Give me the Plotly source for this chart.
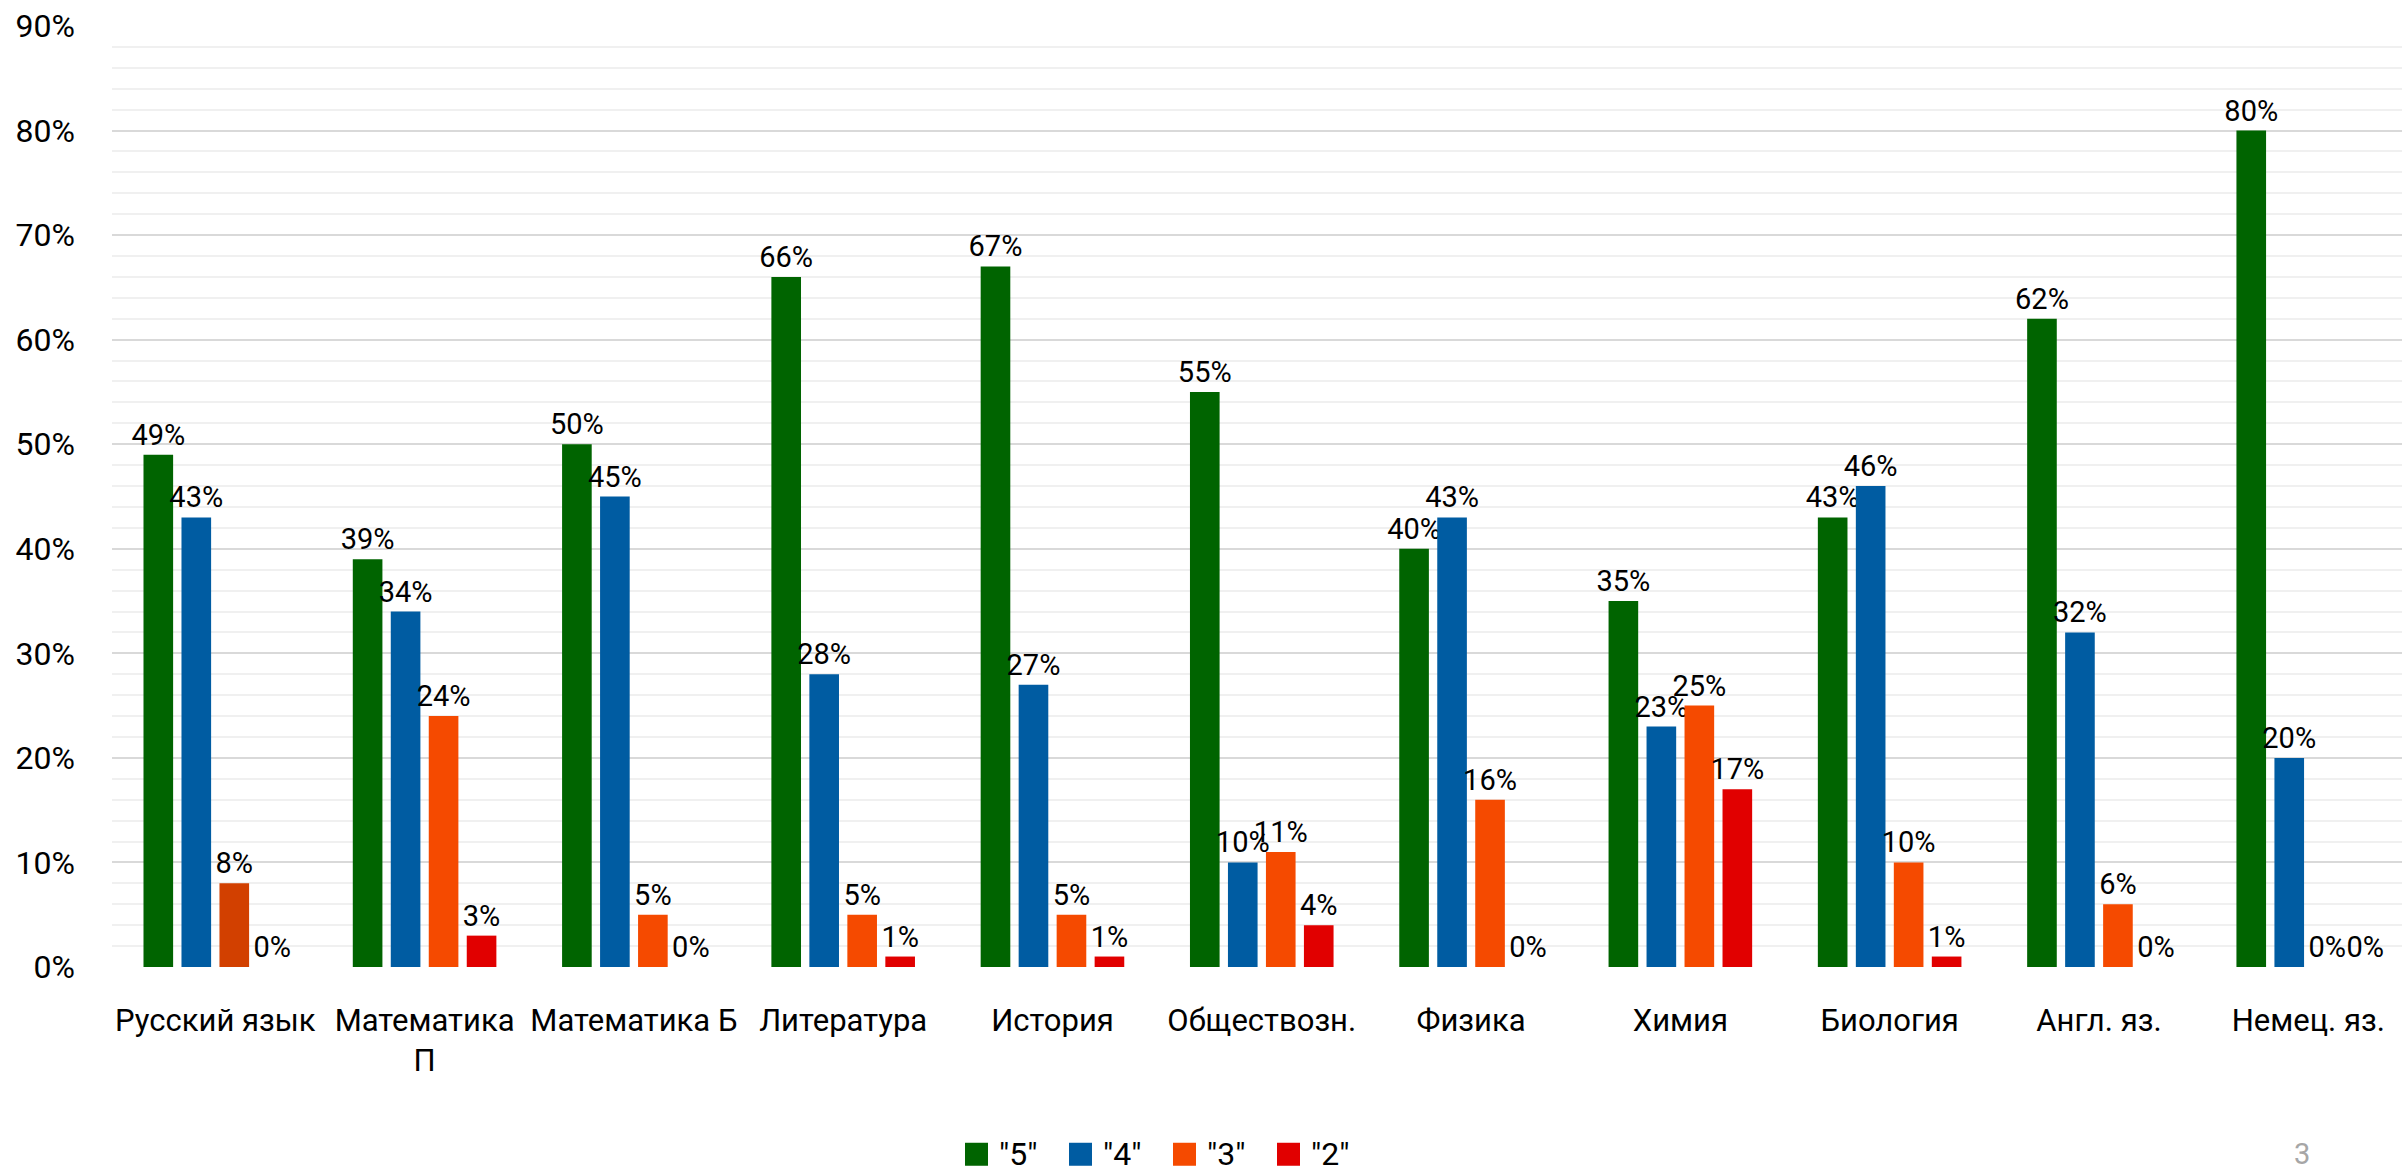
import plotly.graph_objects as go

categories = ["Русский язык", "Математика<br>П", "Математика Б", "Литература", "История",
              "Обществозн.", "Физика", "Химия", "Биология", "Англ. яз.", "Немец. яз."]
grade5 = [49, 39, 50, 66, 67, 55, 40, 35, 43, 62, 80]
grade4 = [43, 34, 45, 28, 27, 10, 43, 23, 46, 32, 20]
grade3 = [8, 24, 5, 5, 5, 11, 16, 25, 10, 6, 0]
grade2 = [0, 3, 0, 1, 1, 4, 0, 17, 1, 0, 0]
series_names = ['"5"', '"4"', '"3"', '"2"']
series_values = [grade5, grade4, grade3, grade2]
colors = ["#006400", "#005CA2", "#F54A00", "#E10000"]
russian_grade3_color = "#D24000"
page_number = "3"

FONT = "Roboto"

fig = go.Figure()
for name, vals, col in zip(series_names, series_values, colors):
    if name == '"3"':
        mcol = [russian_grade3_color] + [col] * (len(vals) - 1)
    else:
        mcol = col
    fig.add_trace(go.Bar(
        x=categories, y=vals, name=name, showlegend=False,
        marker=dict(color=mcol, line=dict(width=0)),
        text=[f"{v}%" for v in vals], textposition="outside",
        textfont=dict(family=FONT, size=29, color="#000000"),
        constraintext="none", cliponaxis=False, hoverinfo="x+y",
    ))

# legend drawn as squares + labels (Excel-style large swatches)
legend_x = 0.3725
legend_y = -0.199
pitch = 104
shapes = []
annotations = []
for i, (name, col) in enumerate(zip(series_names, colors)):
    shapes.append(dict(type="rect", xref="paper", yref="paper",
                       xsizemode="pixel", ysizemode="pixel",
                       xanchor=legend_x, yanchor=legend_y,
                       x0=i * pitch, x1=i * pitch + 23, y0=-11.5, y1=11.5,
                       fillcolor=col, line=dict(width=0)))
    annotations.append(dict(text=name, xref="paper", yref="paper", x=legend_x, y=legend_y,
                            xshift=i * pitch + 33, xanchor="left", yanchor="middle",
                            showarrow=False, borderpad=0,
                            font=dict(family=FONT, size=32, color="#000000")))
annotations.append(dict(text=page_number, xref="paper", yref="paper", x=0.9563, y=-0.199,
                        xanchor="center", yanchor="middle", showarrow=False, borderpad=0,
                        font=dict(family=FONT, size=29, color="#A6A6A6")))

fig.update_layout(
    width=2402, height=1173,
    margin=dict(l=112, r=0, t=26, b=206),
    paper_bgcolor="white", plot_bgcolor="white",
    barmode="group", bargap=0.274, bargroupgap=0.22,
    font=dict(family=FONT, size=32, color="#000000"),
    showlegend=False,
    shapes=shapes, annotations=annotations,
)
fig.update_xaxes(showgrid=False, showline=False, zeroline=False, ticks="",
                 range=[-0.4935, 10.448], tickangle=0, automargin=False,
                 tickfont=dict(family=FONT, size=31), ticklabelstandoff=32)
fig.update_yaxes(range=[0, 90], dtick=10, ticksuffix="%", showline=False, zeroline=False,
                 gridcolor="#D9D9D9", gridwidth=2, ticks="", automargin=False,
                 minor=dict(dtick=2, showgrid=True, gridcolor="#F0F0F0", gridwidth=2),
                 tickfont=dict(family=FONT, size=32), ticklabelstandoff=36)

fig.write_html("out.html", config={"displayModeBar": False},
               post_script="document.body.style.margin='0px';document.body.style.overflow='hidden';")
